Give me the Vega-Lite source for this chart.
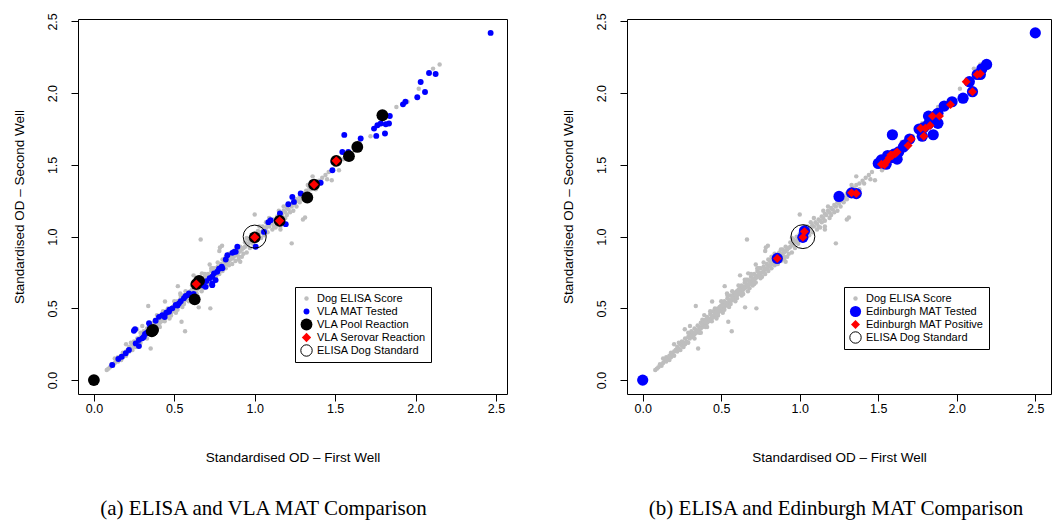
{
  "$schema": "https://vega.github.io/schema/vega-lite/v6.json",
  "background": "white",
  "padding": {"left": 11, "top": 12, "right": 0, "bottom": 0},
  "spacing": 52,
  "datasets": {
    "elisa": [
      {"x":0.08,"y":0.07},{"x":0.09,"y":0.08},{"x":0.10,"y":0.09},{"x":0.11,"y":0.11},{"x":0.12,"y":0.10},{"x":0.13,"y":0.12},{"x":0.14,"y":0.14},{"x":0.15,"y":0.13},{"x":0.15,"y":0.16},{"x":0.16,"y":0.15},{"x":0.17,"y":0.17},{"x":0.18,"y":0.16},{"x":0.18,"y":0.19},{"x":0.19,"y":0.18},{"x":0.20,"y":0.20},{"x":0.20,"y":0.17},{"x":0.21,"y":0.21},{"x":0.22,"y":0.20},{"x":0.22,"y":0.23},{"x":0.23,"y":0.22},{"x":0.24,"y":0.25},{"x":0.24,"y":0.21},{"x":0.25,"y":0.24},{"x":0.25,"y":0.27},{"x":0.26,"y":0.26},{"x":0.27,"y":0.25},{"x":0.27,"y":0.29},{"x":0.28,"y":0.27},{"x":0.29,"y":0.30},{"x":0.29,"y":0.26},{"x":0.30,"y":0.29},{"x":0.30,"y":0.32},{"x":0.268,"y":0.354},{"x":0.301,"y":0.377},{"x":0.353,"y":0.221},{"x":0.20,"y":0.25},
      {"x":0.31,"y":0.31},{"x":0.31,"y":0.34},{"x":0.32,"y":0.30},{"x":0.32,"y":0.33},{"x":0.33,"y":0.32},{"x":0.33,"y":0.36},{"x":0.34,"y":0.33},{"x":0.34,"y":0.35},{"x":0.35,"y":0.34},{"x":0.35,"y":0.38},{"x":0.36,"y":0.35},{"x":0.36,"y":0.37},{"x":0.36,"y":0.33},{"x":0.37,"y":0.36},{"x":0.37,"y":0.40},{"x":0.38,"y":0.37},{"x":0.38,"y":0.39},{"x":0.38,"y":0.42},{"x":0.39,"y":0.38},{"x":0.39,"y":0.41},{"x":0.40,"y":0.39},{"x":0.40,"y":0.42},{"x":0.40,"y":0.37},{"x":0.41,"y":0.40},{"x":0.41,"y":0.44},{"x":0.42,"y":0.41},{"x":0.42,"y":0.43},{"x":0.43,"y":0.42},{"x":0.43,"y":0.46},{"x":0.44,"y":0.43},{"x":0.44,"y":0.45},{"x":0.44,"y":0.41},{"x":0.45,"y":0.44},{"x":0.45,"y":0.48},{"x":0.46,"y":0.45},{"x":0.46,"y":0.47},{"x":0.46,"y":0.50},{"x":0.47,"y":0.46},{"x":0.47,"y":0.49},{"x":0.48,"y":0.47},{"x":0.48,"y":0.50},{"x":0.48,"y":0.45},{"x":0.49,"y":0.48},{"x":0.49,"y":0.51},{"x":0.50,"y":0.49},{"x":0.50,"y":0.52},{"x":0.51,"y":0.50},{"x":0.51,"y":0.53},{"x":0.52,"y":0.51},{"x":0.52,"y":0.55},{"x":0.52,"y":0.49},{"x":0.53,"y":0.52},{"x":0.53,"y":0.54},{"x":0.54,"y":0.53},{"x":0.54,"y":0.57},{"x":0.54,"y":0.59},{"x":0.55,"y":0.54},{"x":0.55,"y":0.56},{"x":0.56,"y":0.55},{"x":0.56,"y":0.59},{"x":0.56,"y":0.53},{"x":0.57,"y":0.56},{"x":0.57,"y":0.58},{"x":0.58,"y":0.57},{"x":0.58,"y":0.60},{"x":0.59,"y":0.58},{"x":0.59,"y":0.61},{"x":0.60,"y":0.59},{"x":0.60,"y":0.62},{"x":0.60,"y":0.57},{"x":0.392,"y":0.453},{"x":0.537,"y":0.604},{"x":0.338,"y":0.516},{"x":0.442,"y":0.548},{"x":0.522,"y":0.655},{"x":0.545,"y":0.407},{"x":0.567,"y":0.341},
      {"x":0.61,"y":0.60},{"x":0.61,"y":0.63},{"x":0.62,"y":0.61},{"x":0.62,"y":0.64},{"x":0.63,"y":0.62},{"x":0.63,"y":0.66},{"x":0.64,"y":0.63},{"x":0.64,"y":0.65},{"x":0.64,"y":0.60},{"x":0.65,"y":0.64},{"x":0.65,"y":0.68},{"x":0.66,"y":0.65},{"x":0.66,"y":0.67},{"x":0.66,"y":0.70},{"x":0.67,"y":0.66},{"x":0.67,"y":0.70},{"x":0.68,"y":0.67},{"x":0.68,"y":0.69},{"x":0.68,"y":0.64},{"x":0.69,"y":0.68},{"x":0.69,"y":0.72},{"x":0.70,"y":0.69},{"x":0.70,"y":0.71},{"x":0.71,"y":0.70},{"x":0.71,"y":0.74},{"x":0.72,"y":0.71},{"x":0.72,"y":0.73},{"x":0.72,"y":0.68},{"x":0.73,"y":0.72},{"x":0.73,"y":0.76},{"x":0.74,"y":0.73},{"x":0.74,"y":0.75},{"x":0.74,"y":0.78},{"x":0.75,"y":0.74},{"x":0.75,"y":0.78},{"x":0.76,"y":0.75},{"x":0.76,"y":0.72},{"x":0.77,"y":0.76},{"x":0.77,"y":0.79},{"x":0.78,"y":0.77},{"x":0.79,"y":0.78},{"x":0.79,"y":0.81},{"x":0.80,"y":0.79},{"x":0.80,"y":0.76},{"x":0.81,"y":0.80},{"x":0.81,"y":0.83},{"x":0.82,"y":0.81},{"x":0.82,"y":0.86},{"x":0.83,"y":0.82},{"x":0.83,"y":0.85},{"x":0.84,"y":0.83},{"x":0.84,"y":0.80},{"x":0.85,"y":0.84},{"x":0.85,"y":0.87},{"x":0.86,"y":0.85},{"x":0.87,"y":0.86},{"x":0.87,"y":0.89},{"x":0.88,"y":0.87},{"x":0.88,"y":0.83},{"x":0.89,"y":0.88},{"x":0.89,"y":0.91},{"x":0.90,"y":0.89},{"x":0.90,"y":0.84},{"x":0.91,"y":0.90},{"x":0.91,"y":0.93},{"x":0.91,"y":0.825},{"x":0.92,"y":0.91},{"x":0.92,"y":0.86},{"x":0.93,"y":0.92},{"x":0.94,"y":0.93},{"x":0.94,"y":0.96},{"x":0.95,"y":0.94},{"x":0.95,"y":0.89},{"x":0.96,"y":0.95},{"x":0.96,"y":0.98},{"x":0.97,"y":0.96},{"x":0.98,"y":0.97},{"x":0.98,"y":1.00},{"x":0.99,"y":0.98},{"x":1.00,"y":0.99},{"x":1.00,"y":1.02},{"x":0.652,"y":0.507},{"x":0.724,"y":0.500},{"x":0.664,"y":0.980},{"x":0.72,"y":0.806},{"x":0.797,"y":0.936},{"x":0.672,"y":0.744},{"x":0.62,"y":0.73},{"x":0.784,"y":0.925},{"x":0.78,"y":0.90},
      {"x":1.01,"y":1.00},{"x":1.02,"y":1.01},{"x":1.02,"y":1.04},{"x":1.03,"y":1.02},{"x":1.04,"y":1.03},{"x":1.04,"y":0.99},{"x":1.05,"y":1.04},{"x":1.05,"y":1.07},{"x":1.06,"y":1.05},{"x":1.07,"y":1.06},{"x":1.07,"y":1.10},{"x":1.08,"y":1.08},{"x":1.08,"y":1.03},{"x":1.09,"y":1.07},{"x":1.10,"y":1.10},{"x":1.11,"y":1.09},{"x":1.12,"y":1.12},{"x":1.12,"y":1.07},{"x":1.13,"y":1.11},{"x":1.14,"y":1.14},{"x":1.15,"y":1.13},{"x":1.15,"y":1.18},{"x":1.16,"y":1.16},{"x":1.16,"y":1.11},{"x":1.17,"y":1.15},{"x":1.18,"y":1.18},{"x":1.19,"y":1.17},{"x":1.20,"y":1.20},{"x":1.20,"y":1.15},{"x":1.21,"y":1.19},{"x":1.22,"y":1.22},{"x":1.23,"y":1.21},{"x":1.24,"y":1.24},{"x":1.24,"y":1.18},{"x":1.25,"y":1.23},{"x":1.26,"y":1.26},{"x":1.27,"y":1.25},{"x":1.28,"y":1.28},{"x":1.28,"y":1.24},{"x":1.29,"y":1.27},{"x":1.30,"y":1.30},{"x":1.31,"y":1.29},{"x":1.32,"y":1.32},{"x":1.33,"y":1.31},{"x":1.34,"y":1.34},{"x":1.35,"y":1.33},{"x":1.36,"y":1.36},{"x":1.38,"y":1.37},{"x":1.40,"y":1.39},{"x":1.42,"y":1.41},{"x":1.44,"y":1.43},{"x":1.46,"y":1.45},{"x":1.00,"y":1.155},{"x":1.23,"y":0.953},{"x":1.313,"y":1.134},{"x":1.30,"y":1.12},{"x":1.13,"y":1.064},{"x":1.16,"y":1.07},{"x":1.16,"y":1.05},{"x":1.479,"y":1.393},{"x":1.524,"y":1.463},{"x":1.36,"y":1.42},{"x":1.45,"y":1.40},
      {"x":0.33,"y":0.29},{"x":0.37,"y":0.33},{"x":0.41,"y":0.37},{"x":0.43,"y":0.48},{"x":0.47,"y":0.43},{"x":0.50,"y":0.55},{"x":0.51,"y":0.47},{"x":0.55,"y":0.51},{"x":0.57,"y":0.62},{"x":0.59,"y":0.55},{"x":0.61,"y":0.66},{"x":0.63,"y":0.59},{"x":0.65,"y":0.70},{"x":0.67,"y":0.62},{"x":0.69,"y":0.74},{"x":0.70,"y":0.66},{"x":0.71,"y":0.67},{"x":0.73,"y":0.78},{"x":0.75,"y":0.71},{"x":0.77,"y":0.82},{"x":0.78,"y":0.74},{"x":0.80,"y":0.84},{"x":0.82,"y":0.78},{"x":0.84,"y":0.88},{"x":0.86,"y":0.81},{"x":0.88,"y":0.91},{"x":0.90,"y":0.86},{"x":0.93,"y":0.88},{"x":0.95,"y":0.99},{"x":0.97,"y":0.92},{"x":0.99,"y":0.95},{"x":1.03,"y":1.07},{"x":1.06,"y":1.01},{"x":1.09,"y":1.13},{"x":1.11,"y":1.05},{"x":1.14,"y":1.10},{"x":1.18,"y":1.21},{"x":1.19,"y":1.13},{"x":1.22,"y":1.17},{"x":1.26,"y":1.21},{"x":1.30,"y":1.26},{"x":1.33,"y":1.36},{"x":1.38,"y":1.33},{"x":1.41,"y":1.37},{"x":0.26,"y":0.23},{"x":0.23,"y":0.26},{"x":0.29,"y":0.33},{"x":0.17,"y":0.14},{"x":0.13,"y":0.15},
      {"x":1.50,"y":1.50},{"x":1.55,"y":1.54},{"x":1.60,"y":1.58},{"x":1.65,"y":1.66},{"x":1.72,"y":1.70},{"x":1.78,"y":1.79},{"x":1.881,"y":1.904},{"x":1.95,"y":1.94},{"x":2.02,"y":2.03},{"x":2.109,"y":2.171},{"x":2.150,"y":2.199}
    ],
    "vla": [
      {"x":2.467,"y":2.42,"series":"VLA MAT Tested"},{"x":2.084,"y":2.141,"series":"VLA MAT Tested"},{"x":2.125,"y":2.134,"series":"VLA MAT Tested"},{"x":2.032,"y":2.078,"series":"VLA MAT Tested"},{"x":2.059,"y":2.008,"series":"VLA MAT Tested"},{"x":2.011,"y":1.971,"series":"VLA MAT Tested"},{"x":1.922,"y":1.922,"series":"VLA MAT Tested"},{"x":1.937,"y":1.940,"series":"VLA MAT Tested"},{"x":1.840,"y":1.841,"series":"VLA MAT Tested"},{"x":1.835,"y":1.788,"series":"VLA MAT Tested"},{"x":1.815,"y":1.783,"series":"VLA MAT Tested"},{"x":1.763,"y":1.776,"series":"VLA MAT Tested"},{"x":1.742,"y":1.753,"series":"VLA MAT Tested"},{"x":1.756,"y":1.702,"series":"VLA MAT Tested"},{"x":1.810,"y":1.719,"series":"VLA MAT Tested"},{"x":1.784,"y":1.788,"series":"VLA MAT Tested"},{"x":1.557,"y":1.709,"series":"VLA MAT Tested"},{"x":1.659,"y":1.684,"series":"VLA MAT Tested"},{"x":1.545,"y":1.590,"series":"VLA MAT Tested"},{"x":1.582,"y":1.590,"series":"VLA MAT Tested"},{"x":1.483,"y":1.463,"series":"VLA MAT Tested"},{"x":1.49,"y":1.52,"series":"VLA MAT Tested"},{"x":1.38,"y":1.37,"series":"VLA MAT Tested"},{"x":1.410,"y":1.375,"series":"VLA MAT Tested"},{"x":1.286,"y":1.301,"series":"VLA MAT Tested"},{"x":1.234,"y":1.277,"series":"VLA MAT Tested"},{"x":1.244,"y":1.242,"series":"VLA MAT Tested"},{"x":1.209,"y":1.226,"series":"VLA MAT Tested"},{"x":1.157,"y":1.161,"series":"VLA MAT Tested"},{"x":1.193,"y":1.087,"series":"VLA MAT Tested"},{"x":1.085,"y":1.101,"series":"VLA MAT Tested"},{"x":1.099,"y":1.115,"series":"VLA MAT Tested"},{"x":1.058,"y":1.033,"series":"VLA MAT Tested"},{"x":1.006,"y":0.929,"series":"VLA MAT Tested"},{"x":0.892,"y":0.929,"series":"VLA MAT Tested"},{"x":0.882,"y":0.894,"series":"VLA MAT Tested"},{"x":0.861,"y":0.887,"series":"VLA MAT Tested"},{"x":0.871,"y":0.894,"series":"VLA MAT Tested"},{"x":0.830,"y":0.871,"series":"VLA MAT Tested"},{"x":0.820,"y":0.841,"series":"VLA MAT Tested"},{"x":0.799,"y":0.779,"series":"VLA MAT Tested"},{"x":0.795,"y":0.790,"series":"VLA MAT Tested"},{"x":0.778,"y":0.776,"series":"VLA MAT Tested"},{"x":0.767,"y":0.755,"series":"VLA MAT Tested"},{"x":0.747,"y":0.744,"series":"VLA MAT Tested"},{"x":0.736,"y":0.720,"series":"VLA MAT Tested"},{"x":0.757,"y":0.697,"series":"VLA MAT Tested"},{"x":0.736,"y":0.674,"series":"VLA MAT Tested"},{"x":0.736,"y":0.662,"series":"VLA MAT Tested"},{"x":0.72,"y":0.71,"series":"VLA MAT Tested"},{"x":0.70,"y":0.69,"series":"VLA MAT Tested"},{"x":0.695,"y":0.650,"series":"VLA MAT Tested"},{"x":0.68,"y":0.66,"series":"VLA MAT Tested"},{"x":0.62,"y":0.60,"series":"VLA MAT Tested"},{"x":0.591,"y":0.604,"series":"VLA MAT Tested"},{"x":0.591,"y":0.593,"series":"VLA MAT Tested"},{"x":0.571,"y":0.586,"series":"VLA MAT Tested"},{"x":0.56,"y":0.57,"series":"VLA MAT Tested"},{"x":0.54,"y":0.55,"series":"VLA MAT Tested"},{"x":0.529,"y":0.535,"series":"VLA MAT Tested"},{"x":0.52,"y":0.52,"series":"VLA MAT Tested"},{"x":0.509,"y":0.523,"series":"VLA MAT Tested"},{"x":0.488,"y":0.500,"series":"VLA MAT Tested"},{"x":0.47,"y":0.49,"series":"VLA MAT Tested"},{"x":0.467,"y":0.476,"series":"VLA MAT Tested"},{"x":0.45,"y":0.47,"series":"VLA MAT Tested"},{"x":0.44,"y":0.44,"series":"VLA MAT Tested"},{"x":0.425,"y":0.453,"series":"VLA MAT Tested"},{"x":0.405,"y":0.441,"series":"VLA MAT Tested"},{"x":0.384,"y":0.414,"series":"VLA MAT Tested"},{"x":0.343,"y":0.396,"series":"VLA MAT Tested"},{"x":0.35,"y":0.37,"series":"VLA MAT Tested"},{"x":0.256,"y":0.354,"series":"VLA MAT Tested"},{"x":0.249,"y":0.344,"series":"VLA MAT Tested"},{"x":0.33,"y":0.33,"series":"VLA MAT Tested"},{"x":0.318,"y":0.321,"series":"VLA MAT Tested"},{"x":0.31,"y":0.30,"series":"VLA MAT Tested"},{"x":0.301,"y":0.291,"series":"VLA MAT Tested"},{"x":0.28,"y":0.28,"series":"VLA MAT Tested"},{"x":0.260,"y":0.256,"series":"VLA MAT Tested"},{"x":0.280,"y":0.237,"series":"VLA MAT Tested"},{"x":0.218,"y":0.210,"series":"VLA MAT Tested"},{"x":0.198,"y":0.187,"series":"VLA MAT Tested"},{"x":0.173,"y":0.163,"series":"VLA MAT Tested"},{"x":0.152,"y":0.147,"series":"VLA MAT Tested"},{"x":0.114,"y":0.105,"series":"VLA MAT Tested"},
      {"x":0,"y":0,"series":"VLA Pool Reaction"},{"x":0.368,"y":0.349,"series":"VLA Pool Reaction"},{"x":0.36,"y":0.34,"series":"VLA Pool Reaction"},{"x":0.627,"y":0.563,"series":"VLA Pool Reaction"},{"x":0.654,"y":0.692,"series":"VLA Pool Reaction"},{"x":0.637,"y":0.669,"series":"VLA Pool Reaction"},{"x":1.0,"y":0.995,"series":"VLA Pool Reaction"},{"x":1.155,"y":1.110,"series":"VLA Pool Reaction"},{"x":1.327,"y":1.273,"series":"VLA Pool Reaction"},{"x":1.369,"y":1.363,"series":"VLA Pool Reaction"},{"x":1.507,"y":1.528,"series":"VLA Pool Reaction"},{"x":1.586,"y":1.561,"series":"VLA Pool Reaction"},{"x":1.638,"y":1.625,"series":"VLA Pool Reaction"},{"x":1.794,"y":1.846,"series":"VLA Pool Reaction"},
      {"x":0.637,"y":0.669,"series":"VLA Serovar Reaction"},{"x":1.0,"y":0.995,"series":"VLA Serovar Reaction"},{"x":1.155,"y":1.110,"series":"VLA Serovar Reaction"},{"x":1.369,"y":1.363,"series":"VLA Serovar Reaction"},{"x":1.507,"y":1.528,"series":"VLA Serovar Reaction"},
      {"x":1.0,"y":1.0,"series":"ELISA Dog Standard"}
    ],
    "edin": [
      {"x":0,"y":0,"series":"Edinburgh MAT Tested"},{"x":2.50,"y":2.42,"series":"Edinburgh MAT Tested"},{"x":2.19,"y":2.20,"series":"Edinburgh MAT Tested"},{"x":2.16,"y":2.17,"series":"Edinburgh MAT Tested"},{"x":2.13,"y":2.13,"series":"Edinburgh MAT Tested"},{"x":2.15,"y":2.13,"series":"Edinburgh MAT Tested"},{"x":2.08,"y":2.08,"series":"Edinburgh MAT Tested"},{"x":2.10,"y":2.01,"series":"Edinburgh MAT Tested"},{"x":2.04,"y":1.965,"series":"Edinburgh MAT Tested"},{"x":1.97,"y":1.94,"series":"Edinburgh MAT Tested"},{"x":1.92,"y":1.91,"series":"Edinburgh MAT Tested"},{"x":1.88,"y":1.86,"series":"Edinburgh MAT Tested"},{"x":1.82,"y":1.84,"series":"Edinburgh MAT Tested"},{"x":1.86,"y":1.84,"series":"Edinburgh MAT Tested"},{"x":1.88,"y":1.79,"series":"Edinburgh MAT Tested"},{"x":1.82,"y":1.785,"series":"Edinburgh MAT Tested"},{"x":1.79,"y":1.76,"series":"Edinburgh MAT Tested"},{"x":1.76,"y":1.75,"series":"Edinburgh MAT Tested"},{"x":1.85,"y":1.71,"series":"Edinburgh MAT Tested"},{"x":1.78,"y":1.70,"series":"Edinburgh MAT Tested"},{"x":1.59,"y":1.71,"series":"Edinburgh MAT Tested"},{"x":1.70,"y":1.68,"series":"Edinburgh MAT Tested"},{"x":1.66,"y":1.625,"series":"Edinburgh MAT Tested"},{"x":1.67,"y":1.64,"series":"Edinburgh MAT Tested"},{"x":1.63,"y":1.59,"series":"Edinburgh MAT Tested"},{"x":1.60,"y":1.575,"series":"Edinburgh MAT Tested"},{"x":1.56,"y":1.565,"series":"Edinburgh MAT Tested"},{"x":1.62,"y":1.54,"series":"Edinburgh MAT Tested"},{"x":1.52,"y":1.535,"series":"Edinburgh MAT Tested"},{"x":1.55,"y":1.505,"series":"Edinburgh MAT Tested"},{"x":1.50,"y":1.51,"series":"Edinburgh MAT Tested"},{"x":1.54,"y":1.53,"series":"Edinburgh MAT Tested"},{"x":1.58,"y":1.55,"series":"Edinburgh MAT Tested"},{"x":1.25,"y":1.28,"series":"Edinburgh MAT Tested"},{"x":1.33,"y":1.305,"series":"Edinburgh MAT Tested"},{"x":1.36,"y":1.30,"series":"Edinburgh MAT Tested"},{"x":1.03,"y":1.04,"series":"Edinburgh MAT Tested"},{"x":1.02,"y":0.995,"series":"Edinburgh MAT Tested"},{"x":0.857,"y":0.848,"series":"Edinburgh MAT Tested"},
      {"x":2.15,"y":2.135,"series":"Edinburgh MAT Positive"},{"x":2.13,"y":2.13,"series":"Edinburgh MAT Positive"},{"x":2.06,"y":2.08,"series":"Edinburgh MAT Positive"},{"x":2.10,"y":2.01,"series":"Edinburgh MAT Positive"},{"x":1.96,"y":1.92,"series":"Edinburgh MAT Positive"},{"x":1.845,"y":1.84,"series":"Edinburgh MAT Positive"},{"x":1.89,"y":1.84,"series":"Edinburgh MAT Positive"},{"x":1.80,"y":1.755,"series":"Edinburgh MAT Positive"},{"x":1.83,"y":1.775,"series":"Edinburgh MAT Positive"},{"x":1.77,"y":1.755,"series":"Edinburgh MAT Positive"},{"x":1.79,"y":1.70,"series":"Edinburgh MAT Positive"},{"x":1.71,"y":1.68,"series":"Edinburgh MAT Positive"},{"x":1.69,"y":1.635,"series":"Edinburgh MAT Positive"},{"x":1.61,"y":1.58,"series":"Edinburgh MAT Positive"},{"x":1.62,"y":1.59,"series":"Edinburgh MAT Positive"},{"x":1.59,"y":1.565,"series":"Edinburgh MAT Positive"},{"x":1.57,"y":1.55,"series":"Edinburgh MAT Positive"},{"x":1.55,"y":1.52,"series":"Edinburgh MAT Positive"},{"x":1.52,"y":1.505,"series":"Edinburgh MAT Positive"},{"x":1.54,"y":1.50,"series":"Edinburgh MAT Positive"},{"x":1.58,"y":1.57,"series":"Edinburgh MAT Positive"},{"x":1.33,"y":1.305,"series":"Edinburgh MAT Positive"},{"x":1.36,"y":1.30,"series":"Edinburgh MAT Positive"},{"x":1.03,"y":1.035,"series":"Edinburgh MAT Positive"},{"x":1.02,"y":0.995,"series":"Edinburgh MAT Positive"},{"x":0.857,"y":0.848,"series":"Edinburgh MAT Positive"},
      {"x":1.02,"y":1.0,"series":"ELISA Dog Standard"}
    ]
  },
  "resolve": {"scale": {"fill": "independent", "stroke": "independent", "shape": "independent", "size": "independent"}},
  "hconcat": [
    {
      "width": 429,
      "height": 375,
      "title": {"text": "(a) ELISA and VLA MAT Comparison", "dx": -29},
      "encoding": {
        "x": {"field": "x", "type": "quantitative", "title": "Standardised OD – First Well", "scale": {"domain": [-0.0988, 2.5688], "nice": false, "zero": false}, "axis": {"values": [0, 0.5, 1, 1.5, 2, 2.5], "format": ".1f"}},
        "y": {"field": "y", "type": "quantitative", "title": "Standardised OD – Second Well", "scale": {"domain": [-0.0968, 2.5168], "nice": false, "zero": false}, "axis": {"values": [0, 0.5, 1, 1.5, 2, 2.5], "format": ".1f"}},
        "fill": {"field": "series", "type": "nominal", "title": null, "scale": {"domain": ["Dog ELISA Score", "VLA MAT Tested", "VLA Pool Reaction", "VLA Serovar Reaction", "ELISA Dog Standard"], "range": ["#bebebe", "#0000ff", "#000000", "#ff0000", "transparent"]}},
        "stroke": {"field": "series", "type": "nominal", "title": null, "scale": {"domain": ["Dog ELISA Score", "VLA MAT Tested", "VLA Pool Reaction", "VLA Serovar Reaction", "ELISA Dog Standard"], "range": ["transparent", "transparent", "transparent", "transparent", "#000000"]}},
        "shape": {"field": "series", "type": "nominal", "title": null, "scale": {"domain": ["Dog ELISA Score", "VLA MAT Tested", "VLA Pool Reaction", "VLA Serovar Reaction", "ELISA Dog Standard"], "range": ["circle", "circle", "circle", "diamond", "circle"]}},
        "size": {"field": "series", "type": "nominal", "title": null, "scale": {"type": "ordinal", "domain": ["Dog ELISA Score", "VLA MAT Tested", "VLA Pool Reaction", "VLA Serovar Reaction", "ELISA Dog Standard"], "range": [20, 35, 140, 87, 130]}}
      },
      "layer": [
        {"data": {"name": "elisa"}, "mark": {"type": "point", "filled": true, "opacity": 1, "strokeWidth": 1}, "encoding": {"fill": {"value": "#bebebe"}, "stroke": {"value": "transparent"}, "shape": {"value": "circle"}, "size": {"value": 20}}},
        {"data": {"name": "vla"}, "transform": [{"filter": "datum.series !== 'ELISA Dog Standard'"}], "mark": {"type": "point", "filled": true, "opacity": 1, "strokeWidth": 1}},
        {"data": {"name": "vla"}, "transform": [{"filter": "datum.series === 'ELISA Dog Standard'"}], "mark": {"type": "point", "filled": true, "opacity": 1, "strokeWidth": 1}, "encoding": {"size": {"value": 531}}}
      ]
    },
    {
      "width": 424,
      "height": 375,
      "title": {"text": "(b) ELISA and Edinburgh MAT Comparison", "dx": -3},
      "encoding": {
        "x": {"field": "x", "type": "quantitative", "title": "Standardised OD – First Well", "scale": {"domain": [-0.1, 2.6], "nice": false, "zero": false}, "axis": {"values": [0, 0.5, 1, 1.5, 2, 2.5], "format": ".1f"}},
        "y": {"field": "y", "type": "quantitative", "title": "Standardised OD – Second Well", "scale": {"domain": [-0.0968, 2.5168], "nice": false, "zero": false}, "axis": {"values": [0, 0.5, 1, 1.5, 2, 2.5], "format": ".1f"}},
        "fill": {"field": "series", "type": "nominal", "title": null, "scale": {"domain": ["Dog ELISA Score", "Edinburgh MAT Tested", "Edinburgh MAT Positive", "ELISA Dog Standard"], "range": ["#bebebe", "#0000ff", "#ff0000", "transparent"]}},
        "stroke": {"field": "series", "type": "nominal", "title": null, "scale": {"domain": ["Dog ELISA Score", "Edinburgh MAT Tested", "Edinburgh MAT Positive", "ELISA Dog Standard"], "range": ["transparent", "transparent", "transparent", "#000000"]}},
        "shape": {"field": "series", "type": "nominal", "title": null, "scale": {"domain": ["Dog ELISA Score", "Edinburgh MAT Tested", "Edinburgh MAT Positive", "ELISA Dog Standard"], "range": ["circle", "circle", "diamond", "circle"]}},
        "size": {"field": "series", "type": "nominal", "title": null, "scale": {"type": "ordinal", "domain": ["Dog ELISA Score", "Edinburgh MAT Tested", "Edinburgh MAT Positive", "ELISA Dog Standard"], "range": [20, 126, 80, 130]}}
      },
      "layer": [
        {"data": {"name": "elisa"}, "mark": {"type": "point", "filled": true, "opacity": 1, "strokeWidth": 1}, "encoding": {"fill": {"value": "#bebebe"}, "stroke": {"value": "transparent"}, "shape": {"value": "circle"}, "size": {"value": 20}}},
        {"data": {"name": "edin"}, "transform": [{"filter": "datum.series !== 'ELISA Dog Standard'"}], "mark": {"type": "point", "filled": true, "opacity": 1, "strokeWidth": 1}},
        {"data": {"name": "edin"}, "transform": [{"filter": "datum.series === 'ELISA Dog Standard'"}], "mark": {"type": "point", "filled": true, "opacity": 1, "strokeWidth": 1}, "encoding": {"size": {"value": 572}}}
      ]
    }
  ],
  "config": {
    "font": "Liberation Sans",
    "view": {"stroke": "#000000", "strokeWidth": 1},
    "axis": {"domain": false, "grid": false, "tickColor": "#000000", "tickSize": 7, "tickWidth": 1, "labelFont": "Liberation Sans", "labelFontSize": 12.5, "labelColor": "#000000", "titleFont": "Liberation Sans", "titleFontSize": 13.5, "titleFontWeight": "normal", "titleColor": "#000000", "labelFlush": false, "labelOverlap": false},
    "axisX": {"labelPadding": 1, "titlePadding": 36},
    "axisY": {"labelAngle": -90, "labelPadding": 12, "titlePadding": 20},
    "legend": {"orient": "none", "legendX": 217, "legendY": 268, "strokeColor": "#000000", "fillColor": "#ffffff", "padding": 5, "cornerRadius": 0, "labelFont": "Liberation Sans", "labelFontSize": 11, "labelColor": "#000000", "labelOffset": 4, "rowPadding": 0, "clipHeight": 13, "symbolStrokeWidth": 1, "labelLimit": 300},
    "title": {"font": "Liberation Serif", "fontSize": 21, "fontWeight": "normal", "color": "#000000", "orient": "bottom", "anchor": "middle", "offset": 34}
  }
}
